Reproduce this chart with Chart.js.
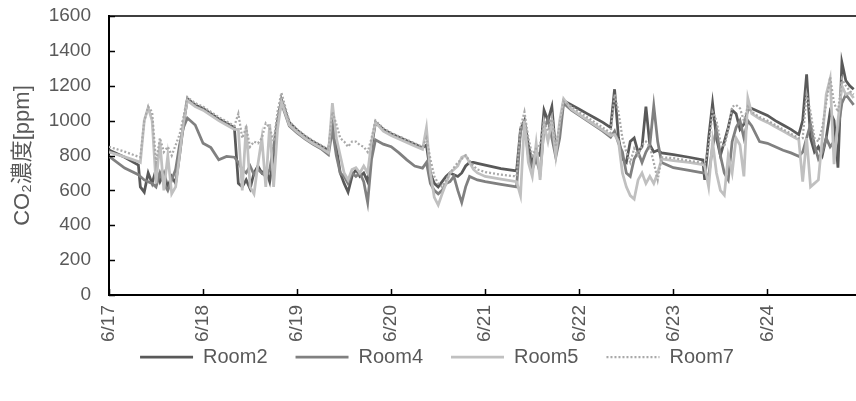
<!DOCTYPE html>
<html>
<head>
<meta charset="utf-8">
<script src="https://cdn.jsdelivr.net/npm/chart.js@4.4.1/dist/chart.umd.min.js"></script>
<style>
  html, body { margin: 0; padding: 0; background: #fff; overflow: hidden; }
  #wrap { width: 856px; height: 401px; overflow: hidden; }
</style>
</head>
<body>
<div id="wrap"><canvas id="co2Chart" width="856" height="401"></canvas></div>
<script>
// hours since 6/17 00:00
const hours = [
  0, 4, 7.5,
  8, 9, 10, 11, 12, 13, 14, 15, 16, 17, 18, 19, 20,
  22, 24, 26, 28, 30, 32,
  33, 34, 35, 36, 37, 38, 39, 40, 41, 42, 43, 44,
  46, 48, 50, 52, 54, 56,
  57, 58, 59, 60, 61, 62, 63, 64, 65, 66, 67, 68,
  70, 72, 74, 76, 78, 80,
  81, 82, 83, 84, 85, 86, 87, 88, 89, 90, 91, 92, 93, 94,
  96, 100, 104,
  105, 106, 107, 108, 109, 110, 111, 112, 113, 114, 115, 116,
  118, 120, 122, 124, 126, 128,
  129, 130, 131, 132, 133, 134, 135, 136, 137, 138, 139, 140, 141,
  144, 148, 151.5,
  152, 153, 154, 155, 156, 157, 158, 159, 160, 161, 162, 163, 164,
  166, 168, 170, 172, 174, 176,
  177, 178, 179, 180, 181, 182, 183, 184, 185, 186, 187, 188, 189, 190
];

const room2 = [
  832, 790, 745,
  620, 590, 700, 640, 720, 650, 700, 620, 680, 640, 800, 980, 1125,
  1090, 1070, 1040, 1010, 985, 960,
  640, 620, 660, 610, 700, 740, 700, 720, 650, 800, 1000, 1120,
  990, 945, 910, 880, 855, 830,
  1000, 850, 700, 640, 590, 680, 720, 680, 700, 650, 850, 990,
  950, 925, 905, 885, 865, 845,
  860, 700, 640, 620, 650, 680, 700, 690, 680, 700, 740, 760, 760, 755,
  745, 725, 712,
  950, 1000, 860, 760, 820, 800, 1060, 1000, 1080, 820, 950, 1115,
  1090, 1065, 1040, 1015, 990, 960,
  1180, 900, 780, 760, 880, 900, 820, 850, 1080, 860, 820, 830, 815,
  805, 790, 775,
  660, 900, 1100, 900, 800, 880, 960, 1060, 1040, 950, 980, 1060, 1070,
  1050, 1030, 1000, 975, 950, 920,
  1000, 1265, 900, 820, 850, 800, 900, 1050, 1000, 730, 1335, 1230, 1200, 1180
];

const room4 = [
  795, 728, 690,
  680, 660, 650, 640, 620, 700, 640, 600, 660, 720, 860, 960, 1015,
  975, 870, 845, 775, 795, 790,
  760, 720, 700, 740, 690, 720, 700, 680, 720, 850, 1000, 1100,
  970, 930, 895, 865, 840, 805,
  950, 800, 700, 680, 640, 700, 680, 700, 650, 530, 780, 890,
  865, 850, 815, 775, 740, 728,
  760, 640, 600, 580, 600, 640, 650, 680, 600, 530, 620, 680, 670, 660,
  650, 635, 620,
  940, 980, 800, 720, 780, 700, 950, 1010, 900, 790, 900, 1100,
  1060, 1030, 1000, 970, 940, 905,
  940, 870, 820, 700, 680, 780, 820, 760, 820, 860, 1085, 880, 760,
  730, 715, 700,
  700, 680, 850, 950, 800, 700, 660, 880, 960, 1000, 900, 1000, 970,
  880, 870, 850, 830, 815, 795,
  820, 900, 980, 860, 780, 820, 900, 850, 880, 950, 1100, 1150, 1120, 1090
];

const room5 = [
  820, 792, 765,
  760, 1000, 1075, 1000, 640, 880, 600, 800, 580, 620, 800, 990, 1115,
  1080, 1060, 1030, 1000, 975, 950,
  950, 600, 970, 620, 580, 750, 900, 620, 980, 620, 950, 1110,
  975, 935, 900, 870, 845, 815,
  1100, 900, 800, 700, 660, 720, 730, 700, 740, 700, 880, 990,
  940, 915, 895, 875, 855, 835,
  960, 700, 560, 516, 580, 640, 700, 720, 740, 790, 800, 760, 720, 700,
  680, 665, 650,
  570, 1000, 760, 680, 870, 660, 980, 880, 1000, 800, 1000, 1125,
  1065, 1035, 1005, 975, 945, 915,
  920, 880, 700, 620, 570, 550, 660, 700, 640, 680, 640, 700, 780,
  770, 760, 748,
  740, 620, 880, 700, 600, 573, 800, 700, 900, 860, 680, 1130, 1040,
  1010, 990, 965, 940, 915, 890,
  650, 900, 620, 640, 660, 900, 1150, 1240, 750, 1000, 1200, 1150, 1160, 1130
];

const room7 = [
  850, 822, 793,
  790, 1000, 1080, 1050, 760, 900, 820, 850, 800, 860, 920, 1020, 1135,
  1100, 1080, 1050, 1020, 995, 970,
  1040, 900, 960, 850, 880, 870, 900, 985, 960, 880, 1050, 1160,
  995, 950, 915, 885, 860, 835,
  1050, 980, 900, 880, 850, 880, 880, 860, 850, 820, 900, 1000,
  955, 930, 910, 890, 870, 850,
  900, 780, 680, 640, 620, 660, 700, 730, 760, 780, 800, 770, 740, 720,
  705, 690, 680,
  960, 1050, 900, 800, 840, 860, 1000, 940, 1020, 850, 980, 1110,
  1080, 1050, 1020, 990, 960, 930,
  1150, 1050, 900, 820, 760, 840, 800, 860, 880, 850, 760, 660, 790,
  785, 770, 758,
  750, 850, 1050, 1000, 880, 850, 950, 1080, 1090, 1070, 1000, 1080, 1050,
  1020, 1000, 975, 950, 925, 900,
  900, 1150, 1050, 900, 880, 960, 1100, 1250, 1100, 1050, 1240, 1200, 1170, 1150
];

const dayLabels = ['6/17', '6/18', '6/19', '6/20', '6/21', '6/22', '6/23', '6/24'];
const seriesNames = ['Room2', 'Room4', 'Room5', 'Room7'];

const textColor = '#595959';
const fontFamily = "'Liberation Sans', Arial, 'Noto Sans CJK JP', sans-serif";

const toPoints = vals => hours.map((h, i) => ({ x: h, y: vals[i] }));

// top border + inward tick marks, like the original frame
const frame = {
  id: 'frame',
  afterDraw(chart) {
    const { ctx, chartArea: a, scales } = chart;
    ctx.save();
    ctx.strokeStyle = '#000';
    ctx.lineWidth = 1.5;
    ctx.beginPath();
    ctx.moveTo(a.left, a.top);
    ctx.lineTo(a.right, a.top);
    scales.x.ticks.forEach(t => {
      const px = Math.round(scales.x.getPixelForValue(t.value)) + 0.5;
      ctx.moveTo(px, a.bottom);
      ctx.lineTo(px, a.bottom - 6);
    });
    scales.y.ticks.forEach(t => {
      const py = Math.round(scales.y.getPixelForValue(t.value)) + 0.5;
      ctx.moveTo(a.left, py);
      ctx.lineTo(a.left + 6, py);
    });
    ctx.stroke();
    ctx.restore();
  }
};

const ds = (i, color, width, dash, order) => ({
  label: seriesNames[i],
  data: toPoints([room2, room4, room5, room7][i]),
  borderColor: color,
  backgroundColor: color,
  borderWidth: width,
  borderDash: dash,
  pointRadius: 0,
  tension: 0,
  order: order
});

new Chart(document.getElementById('co2Chart'), {
  type: 'line',
  data: {
    datasets: [
      ds(0, '#595959', 2.75, [], 4),
      ds(1, '#808080', 2.75, [], 3),
      ds(2, '#c0c0c0', 2.75, [], 2),
      ds(3, '#a9a9a9', 2.25, [2, 2], 1)
    ]
  },
  plugins: [frame],
  options: {
    responsive: false,
    animation: false,
    // plot runs past the right edge of the picture, as in the original
    layout: { padding: { top: 16, left: 8, right: -10, bottom: 24 } },
    plugins: {
      tooltip: { enabled: false },
      legend: {
        position: 'bottom',
        labels: {
          boxWidth: 53,
          boxHeight: 0,
          padding: 28,
          color: textColor,
          font: { size: 20, family: fontFamily },
          sort: (a, b) => a.datasetIndex - b.datasetIndex
        }
      }
    },
    scales: {
      x: {
        type: 'linear',
        min: 0,
        max: 190.6,
        afterBuildTicks: s => { s.ticks = dayLabels.map((_, i) => ({ value: i * 24 })); },
        afterFit: s => {
          s.height = 24;
          s.paddingLeft = 0;
          s.paddingRight = 0;
          s._computeLabelArea = () => null; // let the rotated dates hang below the short axis box
        },
        grid: { display: false, drawTicks: false },
        border: { color: '#000', width: 2 },
        ticks: {
          autoSkip: false,
          minRotation: 90,
          maxRotation: 90,
          padding: 10,
          color: textColor,
          font: { size: 19, family: fontFamily },
          callback: (v, i) => dayLabels[i]
        }
      },
      y: {
        min: 0,
        max: 1600,
        afterFit: s => {
          s.width = 101;
          s.paddingTop = 0;
          s.paddingBottom = 0;
        },
        grid: { display: false, drawTicks: false },
        border: { color: '#000', width: 2 },
        ticks: {
          stepSize: 200,
          padding: 18,
          color: textColor,
          font: { size: 19, family: fontFamily },
          callback: v => String(v)
        },
        title: {
          display: true,
          text: 'CO₂濃度[ppm]',
          color: textColor,
          font: { size: 22, family: fontFamily },
          padding: { top: 2, bottom: 4 }
        }
      }
    }
  }
});
</script>
</body>
</html>
